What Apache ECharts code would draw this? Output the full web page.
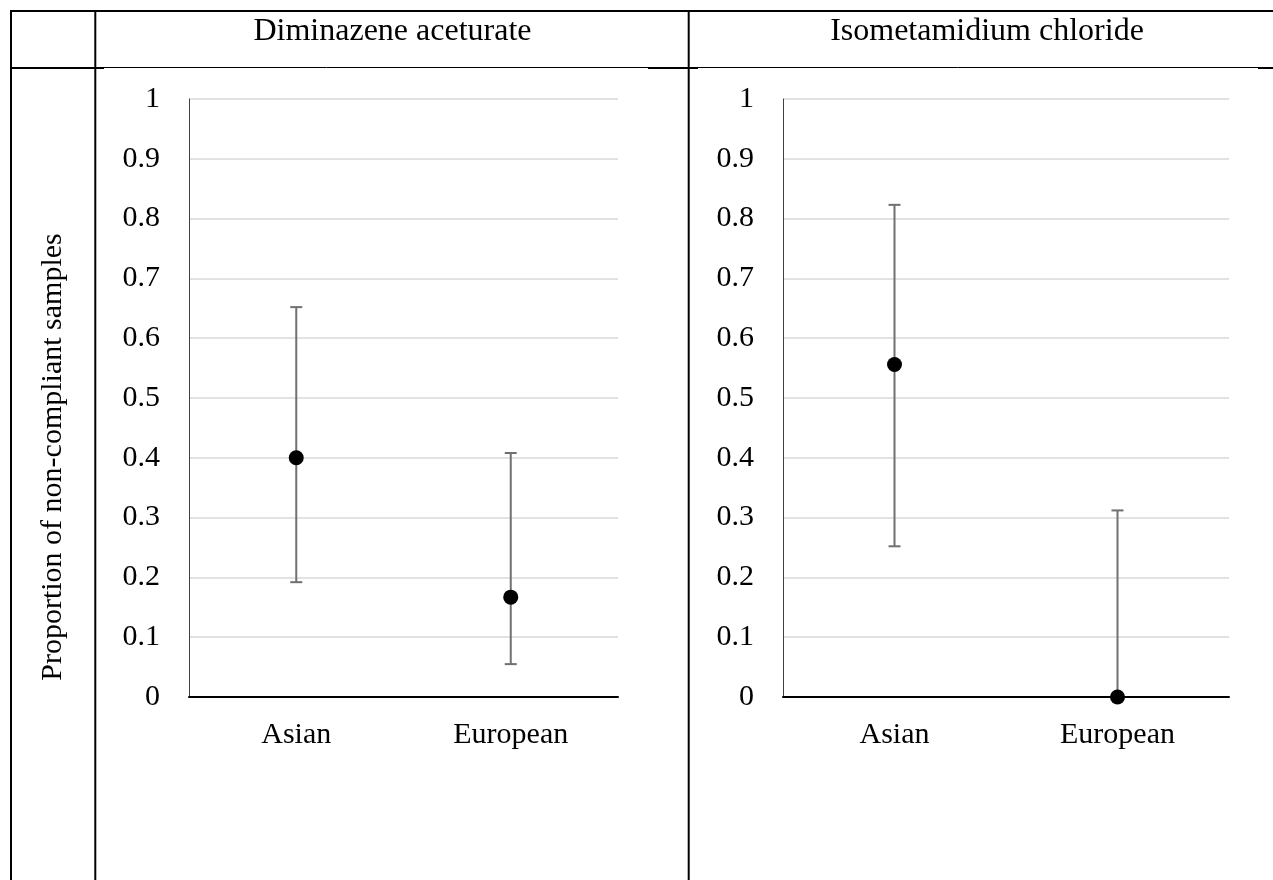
<!DOCTYPE html>
<html>
<head>
<meta charset="utf-8">
<script src="https://cdn.jsdelivr.net/npm/echarts@6/dist/echarts.min.js"></script>
<style>
html,body{margin:0;padding:0;background:#fff;}
#chart{width:1273px;height:880px;}
</style>
</head>
<body>
<div id="chart"></div>
<script>
const categories = ['Asian', 'European'];
const yTicks = [0, 0.1, 0.2, 0.3, 0.4, 0.5, 0.6, 0.7, 0.8, 0.9, 1];
const panelTitles = ['Diminazene aceturate', 'Isometamidium chloride'];
const yAxisTitle = 'Proportion of non-compliant samples';

const diminazeneMean = [0.400, 0.167];
const diminazeneLower = [0.192, 0.055];
const diminazeneUpper = [0.652, 0.408];

const isometamidiumMean = [0.556, 0.000];
const isometamidiumLower = [0.252, 0.000];
const isometamidiumUpper = [0.823, 0.312];

const FONT = '"Liberation Serif", "Times New Roman", serif';
const FS = 30;

const chart = echarts.init(document.getElementById('chart'));

function errData(lower, upper) {
  return categories.map((c, i) => [i, lower[i], upper[i]]);
}
function meanData(mean) {
  return categories.map((c, i) => [i, mean[i]]);
}
function renderErr(params, api) {
  const lo = api.coord([api.value(0), api.value(1)]);
  const hi = api.coord([api.value(0), api.value(2)]);
  const w = 6;
  const style = { stroke: '#707070', lineWidth: 2 };
  return {
    type: 'group',
    children: [
      { type: 'line', shape: { x1: lo[0], y1: lo[1], x2: hi[0], y2: hi[1] }, style },
      { type: 'line', shape: { x1: hi[0] - w, y1: hi[1], x2: hi[0] + w, y2: hi[1] }, style },
      { type: 'line', shape: { x1: lo[0] - w, y1: lo[1], x2: lo[0] + w, y2: lo[1] }, style }
    ]
  };
}

function xAxis(gi) {
  return {
    type: 'category', gridIndex: gi, data: categories, boundaryGap: true,
    axisLine: { show: true, lineStyle: { color: '#000', width: 2 } },
    axisTick: { show: false },
    axisLabel: { color: '#000', fontFamily: FONT, fontSize: FS, margin: 23 },
    splitLine: { show: false }
  };
}
function yAxis(gi) {
  return {
    type: 'value', gridIndex: gi, min: 0, max: 1, interval: 0.1,
    axisLine: { show: true, lineStyle: { color: '#404040', width: 1 } },
    axisTick: { show: false },
    axisLabel: {
      color: '#000', fontFamily: FONT, fontSize: FS, margin: 29, padding: [4, 0, 0, 0],
      formatter: v => {
        const t = yTicks.find(k => Math.abs(k - v) < 1e-9);
        return t === undefined ? '' : String(t);
      }
    },
    splitLine: { show: true, lineStyle: { color: '#d9d9d9', width: 1.5 } }
  };
}

const lineStyleThick = { stroke: '#000', lineWidth: 2 };
const lineStyleThin = { stroke: '#000', lineWidth: 1 };
const pointStyle = { color: '#000', opacity: 1 };

const option = {
  backgroundColor: '#fff',
  animation: false,
  grid: [
    { left: 189, right: 655, top: 99, bottom: 183 },
    { left: 783, right: 44, top: 99, bottom: 183 }
  ],
  xAxis: [xAxis(0), xAxis(1)],
  yAxis: [yAxis(0), yAxis(1)],
  series: [
    { type: 'custom', xAxisIndex: 0, yAxisIndex: 0, renderItem: renderErr, data: errData(diminazeneLower, diminazeneUpper), clip: false, z: 2 },
    { type: 'scatter', xAxisIndex: 0, yAxisIndex: 0, data: meanData(diminazeneMean), symbol: 'circle', symbolSize: 15, itemStyle: pointStyle, clip: false, z: 3 },
    { type: 'custom', xAxisIndex: 1, yAxisIndex: 1, renderItem: renderErr, data: errData(isometamidiumLower, isometamidiumUpper), clip: false, z: 2 },
    { type: 'scatter', xAxisIndex: 1, yAxisIndex: 1, data: meanData(isometamidiumMean), symbol: 'circle', symbolSize: 15, itemStyle: pointStyle, clip: false, z: 3 }
  ],
  graphic: [
    { type: 'line', shape: { x1: 10, y1: 11, x2: 1273, y2: 11 }, style: lineStyleThick, z: 10 },
    { type: 'line', shape: { x1: 11, y1: 10, x2: 11, y2: 880 }, style: lineStyleThick, z: 10 },
    { type: 'line', shape: { x1: 95.3, y1: 10, x2: 95.3, y2: 880 }, style: lineStyleThick, z: 10 },
    { type: 'line', shape: { x1: 688.7, y1: 10, x2: 688.7, y2: 880 }, style: lineStyleThick, z: 10 },
    { type: 'line', shape: { x1: 11, y1: 67.5, x2: 1273, y2: 67.5 }, style: lineStyleThin, z: 10 },
    { type: 'line', shape: { x1: 10, y1: 68, x2: 104, y2: 68 }, style: lineStyleThick, z: 10 },
    { type: 'line', shape: { x1: 648, y1: 68, x2: 698, y2: 68 }, style: lineStyleThick, z: 10 },
    { type: 'line', shape: { x1: 1258, y1: 68, x2: 1273, y2: 68 }, style: lineStyleThick, z: 10 },
    { type: 'text', x: 392.5, y: 32, style: { text: panelTitles[0], fill: '#000', font: '32px ' + FONT, textAlign: 'center', textVerticalAlign: 'middle' }, z: 10 },
    { type: 'text', x: 987, y: 32, style: { text: panelTitles[1], fill: '#000', font: '32px ' + FONT, textAlign: 'center', textVerticalAlign: 'middle' }, z: 10 },
    { type: 'text', x: 53, y: 457, rotation: Math.PI / 2, style: { text: yAxisTitle, fill: '#000', font: FS + 'px ' + FONT, textAlign: 'center', textVerticalAlign: 'middle' }, z: 10 }
  ]
};
chart.setOption(option);
</script>
</body>
</html>
